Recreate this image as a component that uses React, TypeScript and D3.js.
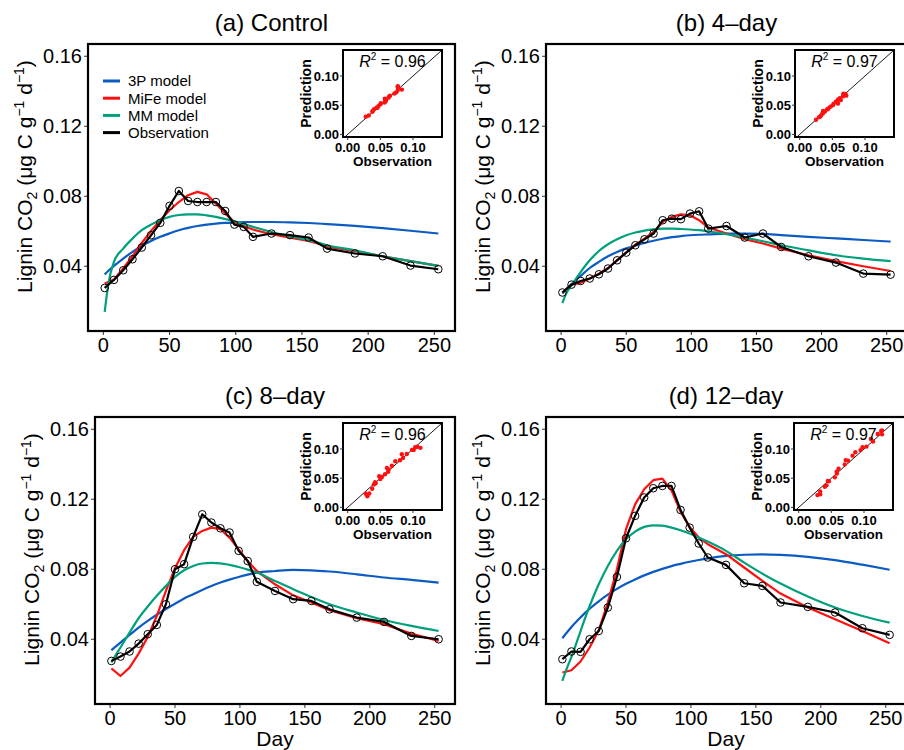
import React from 'react';
import * as d3 from 'd3';

// ---------- data ----------
const days = [1, 8, 15, 22, 29, 36, 43, 50, 57, 64, 71, 78, 85, 92, 99, 106, 113, 127, 141, 155, 169, 190, 211, 232, 253];
const modelDays = [1, 4, 8, 15, 22, 29, 36, 43, 50, 57, 64, 71, 78, 85, 92, 99, 106, 113, 127, 141, 155, 169, 190, 211, 232, 253];
const xTicks = [0, 50, 100, 150, 200, 250];
const yTicks = [0.04, 0.08, 0.12, 0.16];
const insetTicks = [0, 0.05, 0.1];
const seriesNames = ['3P model', 'MiFe model', 'MM model', 'Observation'];
const seriesColors = ['#0b5bc2', '#ff1010', '#00a07a', '#000000'];
const panelTitles = ['(a) Control', '(b) 4\u2013day', '(c) 8\u2013day', '(d) 12\u2013day'];
const r2Values = ['0.96', '0.97', '0.96', '0.97'];

// (a) Control  (obs / MiFe at sampling days; 3P / MM at modelDays)
const obsControl = [0.0276, 0.0322, 0.0377, 0.044, 0.0507, 0.0577, 0.0648, 0.0745, 0.083, 0.0773, 0.0767, 0.0767, 0.0767, 0.0716, 0.0638, 0.0625, 0.0568, 0.0587, 0.0578, 0.0564, 0.0501, 0.0473, 0.0457, 0.0404, 0.0383];
const mifeControl = [0.0301, 0.0324, 0.0387, 0.0457, 0.0533, 0.0602, 0.0663, 0.072, 0.0767, 0.0806, 0.0825, 0.0811, 0.0758, 0.0701, 0.0653, 0.0629, 0.061, 0.0583, 0.0564, 0.0545, 0.0514, 0.0486, 0.0457, 0.0429, 0.0402];
const threePControl = [0.0353, 0.0376, 0.0402, 0.0444, 0.0482, 0.0516, 0.0544, 0.0568, 0.0588, 0.0606, 0.0619, 0.063, 0.0638, 0.0644, 0.0648, 0.065, 0.0652, 0.0653, 0.0653, 0.0651, 0.0647, 0.0641, 0.0631, 0.0618, 0.0603, 0.0587];
const mmControl = [0.0139, 0.031, 0.0425, 0.0501, 0.0558, 0.0606, 0.0638, 0.0663, 0.0682, 0.0693, 0.0697, 0.0697, 0.0691, 0.0682, 0.067, 0.0657, 0.0641, 0.0625, 0.0596, 0.0571, 0.0549, 0.052, 0.0491, 0.0457, 0.0429, 0.0402];

// (b) 4-day
const obs4 = [0.025, 0.0295, 0.0316, 0.033, 0.0354, 0.0387, 0.0434, 0.0478, 0.052, 0.0554, 0.0587, 0.0663, 0.0672, 0.0669, 0.0701, 0.0714, 0.0615, 0.063, 0.0564, 0.0587, 0.051, 0.0457, 0.0421, 0.0358, 0.0352];
const mife4 = [0.025, 0.0295, 0.0305, 0.033, 0.0358, 0.039, 0.0434, 0.048, 0.0524, 0.0558, 0.0596, 0.0653, 0.0682, 0.0697, 0.0691, 0.0663, 0.0621, 0.0587, 0.0554, 0.053, 0.0501, 0.0463, 0.0429, 0.04, 0.0373];
const threeP4 = [0.0244, 0.0268, 0.0298, 0.0345, 0.039, 0.0425, 0.0457, 0.0482, 0.0502, 0.0518, 0.0533, 0.0546, 0.0557, 0.0566, 0.0572, 0.0577, 0.058, 0.0582, 0.0586, 0.0587, 0.0585, 0.0578, 0.0568, 0.0559, 0.055, 0.0541];
const mm4 = [0.019, 0.0245, 0.0291, 0.0367, 0.0434, 0.0487, 0.0526, 0.0554, 0.0577, 0.0593, 0.0604, 0.0611, 0.0615, 0.0615, 0.0613, 0.061, 0.0606, 0.06, 0.0583, 0.0564, 0.0543, 0.052, 0.0491, 0.0463, 0.0444, 0.0429];

// (c) 8-day
const obs8 = [0.0276, 0.0301, 0.033, 0.0375, 0.0429, 0.0482, 0.06, 0.08, 0.0829, 0.0985, 0.1114, 0.1067, 0.1034, 0.101, 0.0905, 0.0847, 0.0728, 0.0676, 0.0629, 0.0619, 0.0571, 0.0524, 0.0499, 0.0419, 0.04];
const mife8 = [0.0234, 0.019, 0.0238, 0.0318, 0.0413, 0.0533, 0.0676, 0.0806, 0.0909, 0.0985, 0.1019, 0.1038, 0.1029, 0.0981, 0.0914, 0.0847, 0.079, 0.0714, 0.0651, 0.061, 0.0566, 0.052, 0.0486, 0.0432, 0.039];
const threeP8 = [0.0337, 0.0356, 0.0381, 0.0425, 0.0467, 0.0505, 0.054, 0.0573, 0.0603, 0.0633, 0.0657, 0.0682, 0.0704, 0.0724, 0.0741, 0.0756, 0.0769, 0.0781, 0.079, 0.0796, 0.0794, 0.0787, 0.0771, 0.0753, 0.0739, 0.0724];
const mm8 = [0.0267, 0.0305, 0.0353, 0.0438, 0.052, 0.0587, 0.0648, 0.0705, 0.0756, 0.0794, 0.0819, 0.0833, 0.0836, 0.0834, 0.0825, 0.0813, 0.0798, 0.0781, 0.0733, 0.0686, 0.0642, 0.06, 0.0553, 0.051, 0.0476, 0.0447];

// (d) 12-day
const obs12 = [0.0286, 0.033, 0.0328, 0.04, 0.0447, 0.0581, 0.0756, 0.0977, 0.1105, 0.121, 0.1263, 0.1276, 0.1276, 0.1139, 0.1038, 0.0947, 0.0867, 0.0825, 0.072, 0.0705, 0.061, 0.0585, 0.0553, 0.0463, 0.0425];
const mife12 = [0.021, 0.0223, 0.0273, 0.0353, 0.0451, 0.061, 0.08, 0.1029, 0.1171, 0.1257, 0.1309, 0.1318, 0.1251, 0.1129, 0.1041, 0.0981, 0.0943, 0.0886, 0.081, 0.0733, 0.0661, 0.0581, 0.0514, 0.0447, 0.0377];
const threeP12 = [0.0406, 0.0434, 0.047, 0.0525, 0.0575, 0.0617, 0.0655, 0.0688, 0.0717, 0.0742, 0.0765, 0.0785, 0.0802, 0.0818, 0.0831, 0.0843, 0.0853, 0.0862, 0.0876, 0.0883, 0.0885, 0.0882, 0.0871, 0.0852, 0.0826, 0.0797];
const mm12 = [0.0162, 0.0225, 0.0299, 0.0447, 0.059, 0.0714, 0.0819, 0.0905, 0.0971, 0.1015, 0.1042, 0.1051, 0.1049, 0.1038, 0.1023, 0.1004, 0.0982, 0.0958, 0.0905, 0.0838, 0.0775, 0.0718, 0.0644, 0.0581, 0.0533, 0.0495];

// ---------- layout ----------
const panels = [
  { title: panelTitles[0], r2: r2Values[0], obs: obsControl, mife: mifeControl, p3: threePControl, mm: mmControl, left: 88, right: 455, top: 44, bottom: 331, legend: true, xTitle: false },
  { title: panelTitles[1], r2: r2Values[1], obs: obs4, mife: mife4, p3: threeP4, mm: mm4, left: 546, right: 907, top: 44, bottom: 331, legend: false, xTitle: false },
  { title: panelTitles[2], r2: r2Values[2], obs: obs8, mife: mife8, p3: threeP8, mm: mm8, left: 95, right: 455, top: 417, bottom: 704, legend: false, xTitle: true },
  { title: panelTitles[3], r2: r2Values[3], obs: obs12, mife: mife12, p3: threeP12, mm: mm12, left: 546, right: 906, top: 417, bottom: 704, legend: false, xTitle: true },
];

const FONT = "'Liberation Sans', Arial, Helvetica, sans-serif";

function Panel({ cfg, idx }: { cfg: any; idx: number }) {
  const { left, right, top, bottom } = cfg;
  const x = d3.scaleLinear().domain([-11.6, 265.6]).range([left, right]);
  const y = d3.scaleLinear().domain([0.003, 0.167]).range([bottom, top]);
  const smooth = d3.line<number>().x((_, i) => x(modelDays[i])).y((d) => y(d)).curve(d3.curveMonotoneX);
  const linear = d3.line<number>().x((_, i) => x(days[i])).y((d) => y(d));
  const clipId = `clip${idx}`;

  // inset
  const iR = right - 13;
  const iL = iR - 99;
  const iT = top + 6;
  const iB = iT + 87;
  const ix = d3.scaleLinear().domain([-0.0072, 0.1444]).range([iL, iR]);
  const iy = d3.scaleLinear().domain([-0.0045, 0.1445]).range([iB, iT]);
  const iclip = `iclip${idx}`;
  const fmt = d3.format('.2f');

  const cx = (left + right) / 2;
  const cy = (top + bottom) / 2;
  const yTitleX = left - 63;

  return (
    <g fontFamily={FONT}>
      <defs>
        <clipPath id={clipId}>
          <rect x={left} y={top} width={right - left} height={bottom - top} />
        </clipPath>
        <clipPath id={iclip}>
          <rect x={iL} y={iT} width={iR - iL} height={iB - iT} />
        </clipPath>
      </defs>
      {/* title */}
      <text x={cx} y={top - 13} textAnchor="middle" fontSize={24}>{cfg.title}</text>
      {/* y axis ticks & labels */}
      {yTicks.map((t) => (
        <g key={t}>
          <line x1={left - 4} x2={left} y1={y(t)} y2={y(t)} stroke="#333" strokeWidth={1} />
          <text x={left - 6} y={y(t)} dy="0.36em" textAnchor="end" fontSize={20}>{t.toFixed(2)}</text>
        </g>
      ))}
      {/* x axis ticks & labels */}
      {xTicks.map((t) => (
        <g key={t}>
          <line x1={x(t)} x2={x(t)} y1={bottom} y2={bottom + 4} stroke="#333" strokeWidth={1} />
          <text x={x(t)} y={bottom + 21} textAnchor="middle" fontSize={20}>{t}</text>
        </g>
      ))}
      {cfg.xTitle && (
        <text x={cx} y={bottom + 42} textAnchor="middle" fontSize={21}>Day</text>
      )}
      {/* y title */}
      <text transform={`translate(${yTitleX},${cy - 11}) rotate(-90)`} textAnchor="middle" fontSize={21} dy="0.35em">
        Lignin CO<tspan fontSize={14} dy={5}>2</tspan>
        <tspan dy={-5}> (μg C g</tspan>
        <tspan fontSize={14} dy={-8}>−1</tspan>
        <tspan dy={8}> d</tspan>
        <tspan fontSize={14} dy={-8}>−1</tspan>
        <tspan dy={8}>)</tspan>
      </text>

      {/* series */}
      <g clipPath={`url(#${clipId})`}>
        <path d={smooth(cfg.p3) || ''} fill="none" stroke={seriesColors[0]} strokeWidth={2.2} />
        <path d={linear(cfg.mife) || ''} fill="none" stroke={seriesColors[1]} strokeWidth={2.2} strokeLinejoin="round" />
        <path d={smooth(cfg.mm) || ''} fill="none" stroke={seriesColors[2]} strokeWidth={2.2} />
        <path d={linear(cfg.obs) || ''} fill="none" stroke={seriesColors[3]} strokeWidth={2.2} strokeLinejoin="round" />
        {cfg.obs.map((v: number, i: number) => (
          <circle key={i} cx={x(days[i])} cy={y(v)} r={3.8} fill="none" stroke="#000" strokeWidth={1} />
        ))}
      </g>

      {/* legend */}
      {cfg.legend && seriesNames.map((n, i) => {
        const ly = top + 37 + i * 17.2;
        return (
          <g key={n}>
            <line x1={left + 15} x2={left + 32} y1={ly} y2={ly} stroke={seriesColors[i]} strokeWidth={3} />
            <text x={left + 40} y={ly} dy="0.36em" fontSize={15}>{n}</text>
          </g>
        );
      })}

      {/* inset */}
      <rect x={iL} y={iT} width={iR - iL} height={iB - iT} fill="#fff" stroke="none" />
      <g clipPath={`url(#${iclip})`}>
        <line x1={ix(-0.01)} y1={iy(-0.01)} x2={ix(0.16)} y2={iy(0.16)} stroke="#000" strokeWidth={0.9} />
        {cfg.obs.map((v: number, i: number) => (
          <circle key={i} cx={ix(v)} cy={iy(cfg.mife[i])} r={2.2} fill="#ff1010" />
        ))}
      </g>
      <rect x={iL} y={iT} width={iR - iL} height={iB - iT} fill="none" stroke="#000" strokeWidth={2} />
      {insetTicks.map((t) => (
        <g key={`iy${t}`}>
          <line x1={iL - 3} x2={iL} y1={iy(t)} y2={iy(t)} stroke="#333" strokeWidth={1} />
          <text x={iL - 4} y={iy(t)} dy="0.36em" textAnchor="end" fontSize={13} fontWeight="bold">{fmt(t)}</text>
        </g>
      ))}
      {insetTicks.map((t) => (
        <g key={`ix${t}`}>
          <line x1={ix(t)} x2={ix(t)} y1={iB} y2={iB + 3} stroke="#333" strokeWidth={1} />
          <text x={ix(t)} y={iB + 15} textAnchor="middle" fontSize={13} fontWeight="bold">{fmt(t)}</text>
        </g>
      ))}
      <text x={(iL + iR) / 2} y={iB + 29} textAnchor="middle" fontSize={13.5} fontWeight="bold">Observation</text>
      <text transform={`translate(${iL - 37},${(iT + iB) / 2}) rotate(-90)`} textAnchor="middle" fontSize={14} fontWeight="bold" dy="0.35em">Prediction</text>
      <text x={(iL + iR) / 2} y={iT + 17} textAnchor="middle" fontSize={16}>
        <tspan fontStyle="italic">R</tspan>
        <tspan fontSize={10} dy={-7}>2</tspan>
        <tspan dy={7}> = {cfg.r2}</tspan>
      </text>

      {/* frame */}
      <rect x={left} y={top} width={right - left} height={bottom - top} fill="none" stroke="#000" strokeWidth={2.2} />
    </g>
  );
}

export default function App() {
  return (
    <svg width={904} height={750} style={{ position: 'absolute', left: 0, top: 0, background: '#fff' }}>
      <rect x={0} y={0} width={904} height={750} fill="#fff" />
      {panels.map((p, i) => (
        <Panel key={i} cfg={p} idx={i} />
      ))}
    </svg>
  );
}
